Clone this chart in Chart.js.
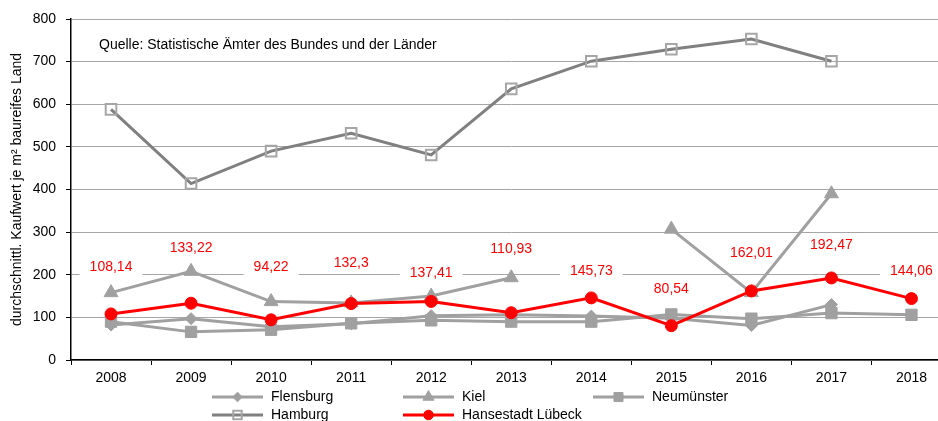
<!DOCTYPE html>
<html>
<head>
<meta charset="utf-8">
<script src="https://cdn.jsdelivr.net/npm/chart.js@4.4.0/dist/chart.umd.min.js"></script>
<style>
  html, body { margin: 0; padding: 0; background: #fff; overflow: hidden; }
  #wrap { width: 961px; height: 421px; }
</style>
</head>
<body>
<div id="wrap"><canvas id="myChart" width="961" height="421"></canvas></div>
<script>
var years = ['2008', '2009', '2010', '2011', '2012', '2013', '2014', '2015', '2016', '2017', '2018'];

var flensburg  = [82, 97, 78, 85, 104, 106, 103, 98, 81, 130, null];
var kiel       = [158, 208, 137, 134, 150, 193, null, 307, 158, 390, null];
var neumuenster = [90, 66, 71, 86, 93, 90, 90, 107, 97, 110, 106];
var hamburg    = [588, 414, 490, 532, 481, 636, 701, 729, 753, 701, null];
var luebeck    = [108.14, 133.22, 94.22, 132.3, 137.41, 110.93, 145.73, 80.54, 162.01, 192.47, 144.06];

var sourceText = 'Quelle: Statistische Ämter des Bundes und der Länder';
var yTitle = 'durchschnittl. Kaufwert je m² baureifes Land';

var GREY = '#a0a0a0';
var DARK = '#808080';
var RED = '#ff0000';

Chart.defaults.font.family = "'Liberation Sans', Arial, sans-serif";
Chart.defaults.font.size = 14;
Chart.defaults.color = '#000';

// red value labels above the Lübeck points, on a white box that hides the gridline
var valueLabels = {
  id: 'valueLabels',
  beforeDatasetsDraw: function(chart, args, opts) {
    var ctx = chart.ctx;
    var meta = chart.getDatasetMeta(opts.dataset);
    var values = chart.data.datasets[opts.dataset].data;
    ctx.save();
    ctx.font = '14px ' + Chart.defaults.font.family;
    ctx.textAlign = 'center';
    ctx.textBaseline = 'middle';
    meta.data.forEach(function(pt, i) {
      var txt = String(values[i]).replace('.', ',');
      var y = pt.y - opts.offsets[i];
      var w = ctx.measureText(txt).width + 20;
      ctx.fillStyle = '#fff';
      ctx.fillRect(pt.x - w / 2, y - 9, w, 18);
      ctx.fillStyle = RED;
      ctx.fillText(txt, pt.x, y);
    });
    // source note
    ctx.fillStyle = '#000';
    ctx.textAlign = 'left';
    ctx.fillText(sourceText, chart.chartArea.left + 28, 45);
    ctx.restore();
  }
};

// two-row legend with fixed columns like the original
var gridLegend = {
  id: 'gridLegend',
  afterDraw: function(chart, args, opts) {
    var ctx = chart.ctx;
    ctx.save();
    ctx.font = '14px ' + Chart.defaults.font.family;
    ctx.textBaseline = 'middle';
    ctx.textAlign = 'left';
    opts.order.forEach(function(dsIndex, k) {
      var ds = chart.data.datasets[dsIndex];
      var x = opts.cols[k % 3];
      var y = opts.rows[Math.floor(k / 3)];
      ctx.strokeStyle = ds.borderColor;
      ctx.lineWidth = ds.borderWidth;
      ctx.beginPath();
      ctx.moveTo(x, y);
      ctx.lineTo(x + 51, y);
      ctx.stroke();
      ctx.fillStyle = ds.pointBackgroundColor;
      ctx.strokeStyle = ds.pointBorderColor;
      ctx.lineWidth = ds.pointBorderWidth;
      Chart.helpers.drawPoint(ctx, {
        pointStyle: ds.pointStyle,
        radius: ds.pointRadius * 0.8,
        rotation: 0,
        borderWidth: ds.pointBorderWidth
      }, x + 25.5, y);
      ctx.fillStyle = '#000';
      ctx.fillText(ds.label, x + 59, y);
    });
    ctx.restore();
  }
};

var chart = new Chart(document.getElementById('myChart'), {
  type: 'line',
  data: {
    labels: years,
    datasets: [
      {
        label: 'Flensburg',
        data: flensburg,
        borderColor: GREY,
        borderWidth: 3,
        pointStyle: 'rectRot',
        pointRadius: 6,
        pointBackgroundColor: GREY,
        pointBorderColor: GREY,
        pointBorderWidth: 1,
        order: 3
      },
      {
        label: 'Kiel',
        data: kiel,
        borderColor: GREY,
        borderWidth: 3,
        pointStyle: 'triangle',
        pointRadius: 8,
        pointBackgroundColor: GREY,
        pointBorderColor: GREY,
        pointBorderWidth: 1,
        order: 2
      },
      {
        label: 'Neumünster',
        data: neumuenster,
        borderColor: GREY,
        borderWidth: 3,
        pointStyle: 'rect',
        pointRadius: 8,
        pointBackgroundColor: GREY,
        pointBorderColor: GREY,
        pointBorderWidth: 1,
        order: 4
      },
      {
        label: 'Hamburg',
        data: hamburg,
        borderColor: DARK,
        borderWidth: 3,
        pointStyle: 'rect',
        pointRadius: 7.5,
        pointBackgroundColor: 'rgba(255,255,255,0)',
        pointBorderColor: '#a6a6a6',
        pointBorderWidth: 2,
        order: 5
      },
      {
        label: 'Hansestadt Lübeck',
        data: luebeck,
        borderColor: RED,
        borderWidth: 3,
        pointStyle: 'circle',
        pointRadius: 6,
        pointBackgroundColor: RED,
        pointBorderColor: RED,
        pointBorderWidth: 1,
        order: 0
      }
    ]
  },
  options: {
    responsive: false,
    animation: false,
    devicePixelRatio: 1,
    spanGaps: false,
    layout: {
      padding: { top: 19, left: 0, right: 0, bottom: 0 }
    },
    scales: {
      x: {
        offset: true,
        grid: {
          drawOnChartArea: false,
          offset: true,
          tickLength: 5,
          tickColor: '#000'
        },
        border: { color: '#000', width: 1.5 },
        ticks: { color: '#000', padding: 5 },
        afterFit: function(scale) { scale.height = 61; }
      },
      y: {
        min: 0,
        max: 800,
        ticks: { stepSize: 100, color: '#000', padding: 10 },
        grid: { color: '#a6a6a6', tickColor: '#000', tickLength: 5, lineWidth: 1 },
        border: { color: '#000', width: 1.5 },
        title: {
          display: true,
          text: yTitle,
          color: '#000',
          padding: { top: 9, bottom: 0 }
        },
        afterFit: function(scale) { scale.width = 71; }
      }
    },
    plugins: {
      legend: { display: false },
      tooltip: { enabled: false },
      valueLabels: {
        dataset: 4,
        offsets: [47, 55, 53, 40, 28, 64, 27, 37, 38, 33, 27]
      },
      gridLegend: {
        order: [0, 1, 2, 3, 4],
        cols: [212, 403, 593],
        rows: [397, 415]
      }
    }
  },
  plugins: [valueLabels, gridLegend]
});
</script>
</body>
</html>
